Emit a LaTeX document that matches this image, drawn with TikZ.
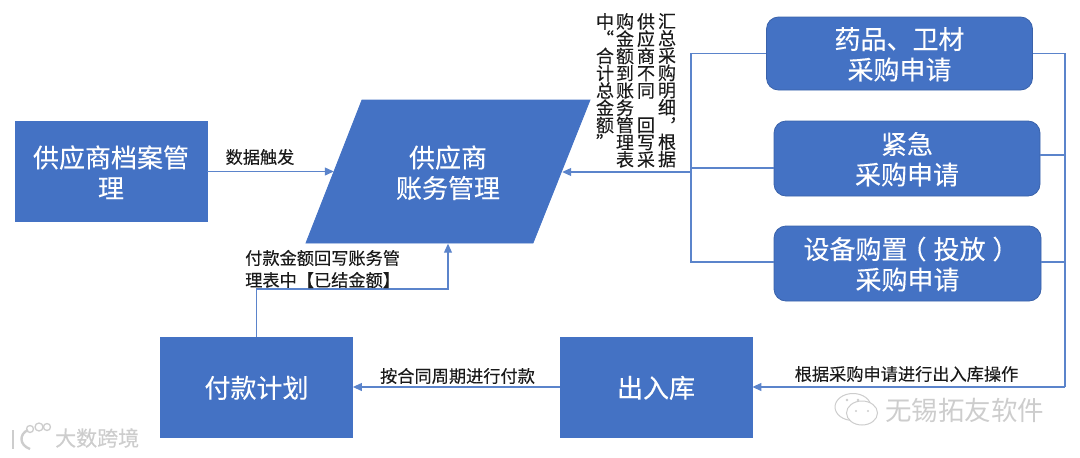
\documentclass[tikz,border=0pt]{standalone}
\usepackage{fontspec}
\setmainfont{Noto Sans CJK SC}
\newfontfamily\heavycjk[FakeBold=0.2]{Noto Sans CJK SC}
\usetikzlibrary{arrows.meta}
\definecolor{bluefill}{HTML}{4472C4}
\definecolor{blueedge}{HTML}{3A62AA}
\definecolor{blueline}{HTML}{5B84CB}
\definecolor{labelink}{HTML}{1A1A1A}
\definecolor{markgray}{HTML}{CDCDCD}
\newcommand{\firstline}{\rule{0pt}{23.5pt}}
\tikzset{
  boxbase/.style={text=white,align=center,inner sep=0pt,font=\heavycjk\fontsize{26}{30.5}\selectfont},
  squarebox/.style={boxbase,rectangle,fill=bluefill,draw=bluefill,line width=0.8pt,minimum width=192pt,minimum height=100pt},
  roundbox/.style={boxbase,rectangle,fill=bluefill,draw=blueedge,line width=0.8pt,rounded corners=12pt,minimum width=266pt},
  slantshape/.style={fill=bluefill,draw=bluefill,line width=0.8pt},
  conn/.style={draw=blueline,line width=1.1pt},
  connarrow/.style={conn,-{Triangle[length=9pt,width=8pt]}},
  lab/.style={text=labelink,inner sep=0pt,align=left,font=\heavycjk\fontsize{17.2}{22}\selectfont},
  vcol/.style={text=labelink,inner sep=0pt,align=center,anchor=north,font=\heavycjk\fontsize{18}{17.25}\selectfont},
  wmtext/.style={text=markgray,inner sep=0pt},
  wmline/.style={draw=markgray,line width=1pt,fill=white}
}
\begin{document}
\begin{tikzpicture}[x=1pt,y=-1pt]
\useasboundingbox (0,0) rectangle (1080,458);
% parallelogram body, with a text node whose side anchors sit on its slanted edges
\path[slantshape] (362,100) -- (590,100) -- (533,243) -- (306,243) -- cycle;
\node[boxbase,rectangle,minimum width=228pt,minimum height=143pt] (acc) at (448,172) {\firstline 供应商\\账务管理};
% boxes
\node[squarebox] (sup) at (111,171.5) {\firstline 供应商档案管\\理};
\node[roundbox,minimum height=73pt] (drug) at (899.5,53.5) {\firstline 药品、卫材\\采购申请};
\node[roundbox,minimum height=75pt] (urgent) at (907,158.5) {\firstline 紧急\\采购申请};
\node[roundbox,minimum width=267pt,minimum height=75pt] (equip) at (907.5,263.5) {\firstline 设备购置\kern-7pt（\kern7pt 投放\kern7pt）\kern-7pt\\采购申请};
\node[squarebox] (pay) at (256.5,387) {\firstline 付款计划};
\node[squarebox] (stock) at (656,387) {\firstline 出入库};
% junction coordinates
\coordinate (trunkL) at (691,172);
\coordinate (trunkR) at (1065,387);
\coordinate (payTurn) at (448,289);
\coordinate (equipL) at ([yshift=1.5pt]equip.west);
\coordinate (equipR) at ([yshift=1.5pt]equip.east);
\coordinate (urgentL) at ([yshift=-9.5pt]urgent.west);
\coordinate (urgentR) at ([yshift=3.5pt]urgent.east);
% left collector
\draw[conn] (drug.west) -- (trunkL |- drug.west) -- (trunkL |- equipL) -- (equipL);
\draw[conn] (urgentL) -- (trunkL |- urgentL);
\draw[connarrow] (trunkL) -- (acc.east);
% right collector
\draw[conn] (drug.east) -- (trunkR |- drug.east) -- (trunkR);
\draw[conn] (urgentR) -- (trunkR |- urgentR);
\draw[conn] (equipR) -- (trunkR |- equipR);
\draw[connarrow] (trunkR) -- (stock.east);
% others
\draw[connarrow] (sup.east) -- (sup.east -| acc.west);
\draw[connarrow] (stock.west) -- (pay.east);
\draw[connarrow] (pay.north) |- (payTurn) -- (acc.south);
% labels
\node[lab,anchor=center] (l1) at (260,157) {数据触发};
\node[lab,anchor=west] (l2) at (245,269) {付款金额回写账务管\\理表中【已结金额】};
\node[lab,anchor=center] (l3) at (457.5,376) {按合同周期进行付款};
\node[lab,anchor=center] (l4) at (906.5,374) {根据采购申请进行出入库操作};
\node[vcol] (c1) at (667,13) {汇\\总\\采\\购\\明\\细\\\smash{\makebox[0pt]{\hspace{22pt}\raisebox{10pt}{，}}}\\根\\据};
\node[vcol] (c2) at (646,13) {供\\应\\商\\不\\同\\\mbox{}\\回\\写\\采};
\node[vcol] (c3) at (625,13) {购\\金\\额\\到\\账\\务\\管\\理\\表};
\node[vcol] (c4) at (605,13) {中\\“\\合\\计\\总\\金\\额\\”};
% watermark right
\path[wmline] (853,407) ellipse [x radius=18pt,y radius=13.5pt];
\path[wmline] (862,413) ellipse [x radius=15.5pt,y radius=12pt];
\fill[markgray] (847,400) circle (1.4pt) (858,400) circle (1.4pt) (856,411) circle (1.2pt) (868,411) circle (1.2pt);
\node[wmtext,anchor=west,font=\fontsize{26.5}{30}\selectfont] (wm1) at (885,410) {无锡拓友软件};
% watermark left
\draw[markgray,line width=2.6pt] (13,430) -- (13,449);
\draw[markgray,line width=2.4pt] (28,430) .. controls (19,434) and (19,445) .. (30,449);
\draw[markgray,line width=1.3pt] (30,429) circle (3.5pt) (39,427) circle (4pt) (47,427) circle (3.5pt);
\node[wmtext,anchor=west,font=\heavycjk\fontsize{21}{24}\selectfont] (wm2) at (55,438) {大数跨境};
\end{tikzpicture}
\end{document}
